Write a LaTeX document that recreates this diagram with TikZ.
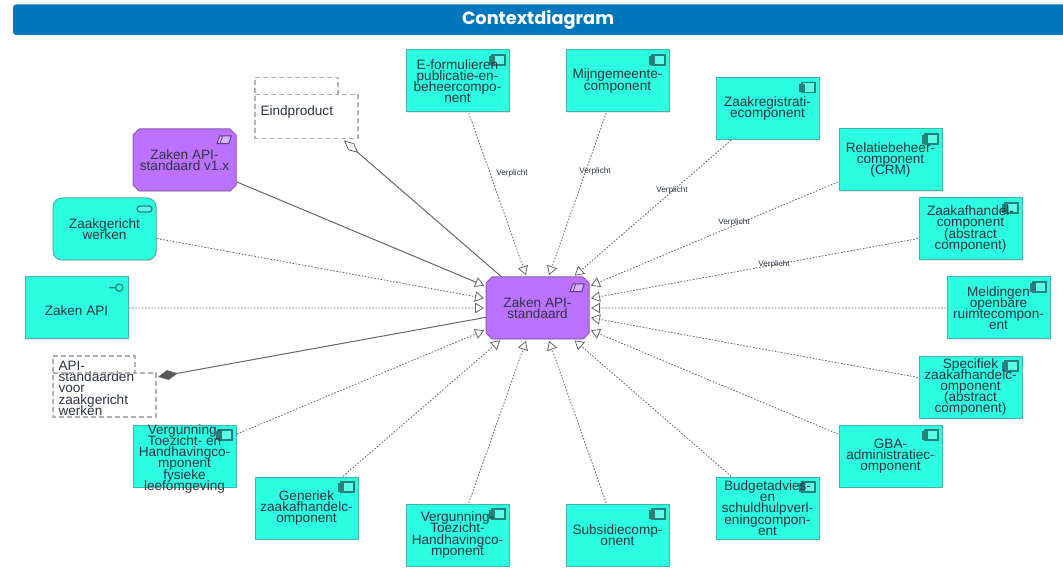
\documentclass[tikz,border=0pt]{standalone}
\usepackage{fontspec}
\setmainfont{Liberation Sans}
\newfontfamily\titlefont{Poppins}
\usetikzlibrary{arrows.meta,shapes.misc,shadows}
\definecolor{zcyan}{HTML}{2CFFE1}
\definecolor{zcyanline}{HTML}{45B5A5}
\definecolor{zcyanicon}{HTML}{5CFFE8}
\definecolor{ziconline}{HTML}{2A7F78}
\definecolor{zpurple}{HTML}{BC72FF}
\definecolor{zpurpleline}{HTML}{8A58B8}
\definecolor{zhead}{HTML}{0277BD}
\definecolor{ztext}{HTML}{2B3440}
\definecolor{zedge}{HTML}{666666}
\definecolor{zdash}{HTML}{B0B0B0}
\newcommand{\zfont}{\fontsize{13.6}{11.2}\selectfont\lineskiplimit=-100pt\relax}
\newcommand{\zppb}{path picture bounding box.north east}
\tikzset{
  x=1pt,y=-1pt,
  base/.style={minimum width=103pt,minimum height=62pt,inner sep=0pt,outer sep=0pt,align=center,
    text=ztext,font=\zfont,execute at begin node={\rule{0pt}{16pt}},
    drop shadow={opacity=.18,shadow xshift=1pt,shadow yshift=-1pt}},
  fivelines/.style={execute at begin node={\rule{0pt}{14pt}}},
  plainbox/.style={base,rectangle,draw=zcyanline,line width=1pt,fill=zcyan},
  compbox/.style={plainbox,path picture={
    \draw[draw=ziconline,line width=1.2pt,fill=zcyanicon]
      (\zppb) ++(-17,5) rectangle ++(13,10)
      (\zppb) ++(-19,7) rectangle ++(4,3)
      (\zppb) ++(-19,11) rectangle ++(4,3);}},
  apibox/.style={plainbox,path picture={
    \draw[draw=ziconline,line width=1.2pt]
      (\zppb) ++(-19,10.7) -- ++(6,0)
      (\zppb) ++(-8.7,10.7) circle[radius=3.7];}},
  servicebox/.style={plainbox,rounded corners=9pt,path picture={
    \draw[draw=ziconline,line width=1.2pt,fill=zcyanicon,rounded corners=3pt]
      (\zppb) ++(-19,8) rectangle ++(15,6);}},
  purplebox/.style={base,chamfered rectangle,chamfered rectangle xsep=3pt,chamfered rectangle ysep=3pt,
    draw=zpurpleline,line width=1pt,fill=zpurple,path picture={
    \draw[draw=zpurpleline!70!black,line width=1pt,fill=zpurple!55!white]
      (\zppb) ++(-19,14.7) -- ++(2.7,-7.7) -- ++(11.6,0) -- ++(-2.6,7.7) -- cycle;
    \draw[draw=zpurpleline!70!black,line width=.8pt]
      (\zppb) ++(-16,14.7) -- ++(2.7,-7.7);}},
  groupbox/.style={minimum width=103pt,inner sep=0pt,outer sep=0pt,text=ztext,align=left,
    font=\zfont,text width=92pt},
  groupline/.style={draw=zdash,line width=1.1pt,dash pattern=on 5pt off 3pt},
  dotline/.style={draw=zedge,line width=.8pt,dash pattern=on 1.6pt off 1.6pt,shorten >=2pt,shorten <=1pt,
    -{Triangle[fill=white,color=zedge,line width=.8pt,length=9pt,width=10.5pt]}},
  solidspec/.style={draw=zedge,line width=1pt,shorten >=2pt,shorten <=1pt,
    -{Triangle[fill=white,color=zedge,line width=.8pt,length=9pt,width=10.5pt]}},
  solidopen/.style={draw=zedge,line width=1pt,shorten <=3pt,
    arrows={{Diamond[fill=white,color=zedge,line width=.8pt,length=19pt,width=9pt]}-}},
  solidfull/.style={draw=zedge,line width=1pt,shorten <=2pt,
    arrows={{Diamond[fill=zedge!85!black,color=zedge,line width=.8pt,length=20pt,width=10pt]}-}},
  edgelabel/.style={font=\fontsize{8.2}{9}\selectfont,text=ztext,inner sep=0pt},
}
\begin{document}
\begin{tikzpicture}
\useasboundingbox (0,0) rectangle (1063,569);
% header
\fill[zhead] (1063,4.5) [rounded corners=3pt] -- (13,4.5) -- (13,35) [sharp corners] -- (1063,35) -- cycle;
\node[text=white,inner sep=0pt,font=\titlefont\bfseries\fontsize{17.7}{20}\selectfont] (title) at (538,20) {Contextdiagram};
% nodes
\node[purplebox] (c) at (537.5,308) {Zaken API-\\standaard};
\node[purplebox] (v1) at (184.5,160) {Zaken API-\\standaard v1.x};
\node[servicebox] (zg) at (104.5,229) {Zaakgericht\\werken};
\node[apibox] (api) at (76.5,308) {Zaken API};
\node[groupbox,minimum height=61pt] (prod) at (306.5,108) {\rule{0pt}{17pt}Eindproduct};
\node[groupbox,minimum height=61pt] (std) at (104.5,386.5) {\rule{0pt}{13pt}API-\\standaarden\\voor\\zaakgericht\\werken};
\node[compbox] (ef) at (457.5,81) {E-formulieren\\publicatie-en-\\beheercompo-\\nent};
\node[compbox] (mijn) at (617.5,81) {Mijngemeente-\\component};
\node[compbox] (zreg) at (767.5,108.5) {Zaakregistrati-\\ecomponent};
\node[compbox] (rel) at (890.5,160) {Relatiebeheer-\\component\\(CRM)};
\node[compbox] (zafh) at (970.5,229) {Zaakafhandel-\\component\\(abstract\\component)};
\node[compbox] (meld) at (998.5,308) {Meldingen\\openbare\\ruimtecompon-\\ent};
\node[compbox,fivelines] (spec) at (970.5,387) {Specifiek\\zaakafhandelc-\\omponent\\(abstract\\component)};
\node[compbox] (gba) at (890.5,456) {GBA-\\administratiec-\\omponent};
\node[compbox,fivelines] (bud) at (767.5,508) {Budgetadvies-\\en\\schuldhulpverl-\\eningcompon-\\ent};
\node[compbox] (sub) at (617.5,535) {Subsidiecomp-\\onent};
\node[compbox] (vth) at (457.5,535) {Vergunning-\\Toezicht-\\Handhavingco-\\mponent};
\node[compbox] (gen) at (306.5,508) {Generiek\\zaakafhandelc-\\omponent};
\node[compbox,execute at begin node={}] (vfys) at (184.5,456) {\raisebox{1.6pt}[0pt][0pt]{\makebox[0pt]{\parbox[c]{120pt}{\zfont\centering Vergunning-\\Toezicht- en\\Handhavingco-\\mponent\\fysieke\\leefomgeving}}}};
% dashed group outlines
\draw[groupline] (prod.north west) -- ++(83,0) -- ++(0,17) -- ++(20,0) -- (prod.south east) -- (prod.south west) -- cycle;
\draw[groupline] (prod.north west) ++(0,17) -- ++(83,0);
\draw[groupline] (std.north west) -- ++(82,0) -- ++(0,17) -- ++(21,0) -- (std.south east) -- (std.south west) -- cycle;
\draw[groupline] (std.north west) ++(0,17) -- ++(82,0);
% connectors
\foreach \n in {zg,api,ef,mijn,zreg,rel,zafh,meld,spec,gba,bud,sub,vth,gen,vfys}
  \draw[dotline] (\n) -- (c);
\draw[solidspec] (v1) -- (c);
\draw[solidopen] (prod) -- (c);
\draw[solidfull] (std) -- (c);
% labels
\node[edgelabel] (l1) at (512,173) {Verplicht};
\node[edgelabel] (l2) at (595,171) {Verplicht};
\node[edgelabel] (l3) at (672,190) {Verplicht};
\node[edgelabel] (l4) at (734,222) {Verplicht};
\node[edgelabel] (l5) at (774,264) {Verplicht};
\end{tikzpicture}
\end{document}
